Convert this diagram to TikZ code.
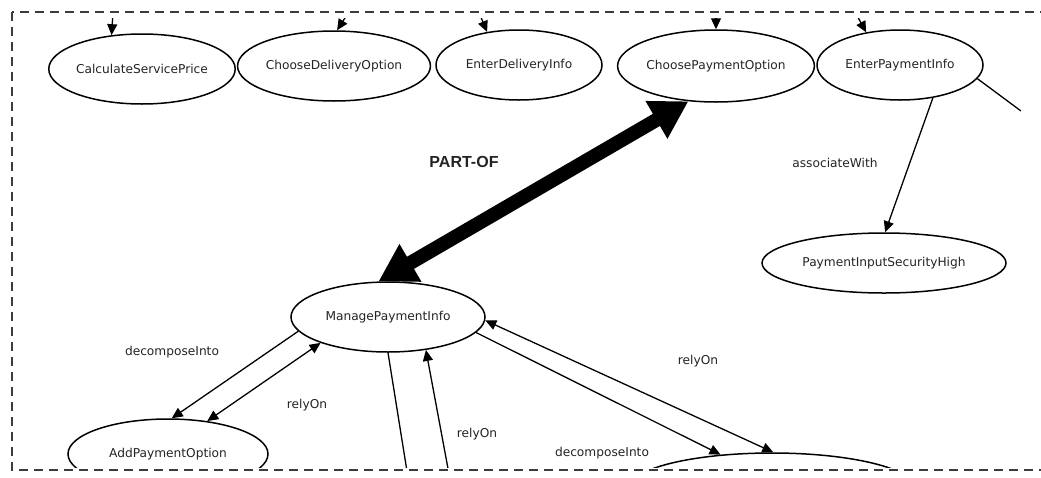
\documentclass[tikz,border=0pt]{standalone}
\usepackage{fontspec}
\setmainfont{DejaVu Sans}
\newfontfamily\headfont{Liberation Sans}
\usetikzlibrary{shapes.geometric,arrows.meta}
\definecolor{txt}{RGB}{35,35,35}
\definecolor{framecol}{RGB}{60,60,60}
\begin{document}
\begin{tikzpicture}[x=1pt,y=-1pt,
  concept/.style={ellipse,draw,line width=1.5pt,inner sep=0pt,
    font=\fontsize{12.2}{14}\selectfont,text=txt},
  rel/.style={line width=1.3pt,-{Triangle[length=11pt,width=10pt]}},
  twoway/.style={line width=1.3pt,{Triangle[length=11pt,width=10pt]}-{Triangle[length=11pt,width=10pt]}},
  plainrel/.style={line width=1.3pt},
  lbl/.style={font=\fontsize{12.2}{14}\selectfont,text=txt,inner sep=0pt},
  partof/.style={line width=14pt,{Triangle[length=37pt,width=41pt]}-{Triangle[length=37pt,width=41pt]}},
  frame/.style={draw=framecol,line width=1.1pt,dash pattern=on 9pt off 6pt}
]
\useasboundingbox (0,0) rectangle (1041,477);
\draw[frame] (12,12) rectangle (1070,470);

\begin{scope}
\clip (14,18) rectangle (1021,467);

% concepts
\node[concept,minimum width=168pt,minimum height=70pt] (csp) at (142,69) {CalculateServicePrice};
\node[concept,minimum width=166pt,minimum height=70pt] (cdo) at (334,66) {ChooseDeliveryOption};
\node[concept,minimum width=166pt,minimum height=70pt] (edi) at (519,65) {EnterDeliveryInfo};
\node[concept,minimum width=170pt,minimum height=72pt] (cpo) at (716,66) {ChoosePaymentOption};
\node[concept,minimum width=166pt,minimum height=70pt] (epi) at (900,65) {EnterPaymentInfo};
\node[concept,minimum width=244pt,minimum height=60pt] (pish) at (884,263) {PaymentInputSecurityHigh};
\node[concept,minimum width=194pt,minimum height=70pt] (mpi) at (388,317) {ManagePaymentInfo};
\node[concept,minimum width=200pt,minimum height=70pt] (apo) at (168,454) {AddPaymentOption};
\node[concept,minimum width=286pt,minimum height=70pt] (low) at (772,488) {};

% loose ends of connectors
\coordinate (inCsp) at (113,12);
\coordinate (inCdo) at (350,10);
\coordinate (inEdi) at (478,10);
\coordinate (inCpo) at (716,10);
\coordinate (inEpi) at (854,10);
\coordinate (outEpi) at (1021,111);
\coordinate (downA) at (410,490);
\coordinate (downB) at (452,490);

% incoming from above
\draw[rel] (inCsp) -- (csp.132);
\draw[rel] (inCdo) -- (cdo.85);
\draw[rel] (inEdi) -- (edi.134);
\draw[rel] (inCpo) -- (cpo.90);
\draw[rel] (inEpi) -- (epi.136);

% relations
\draw[plainrel] (epi.-10) -- (outEpi);
\draw[rel] (epi.-45) -- (pish.88);
\draw[partof] (mpi.105) -- (cpo.232);
\draw[rel] (mpi.189) -- (apo.84);
\draw[twoway] (apo.40) -- (mpi.201);
\draw[plainrel] (mpi.270) -- (downA);
\draw[rel] (downB) -- (mpi.-41);
\draw[rel] (mpi.-10) -- (low.147);
\draw[twoway] (mpi.-2) -- (low.88);

% labels
\node[lbl] (lPart) at (464,162) {\headfont\fontsize{16}{18}\selectfont\bfseries PART-OF};
\node[lbl] (lAssoc) at (835,163) {associateWith};
\node[lbl] (lDec1) at (172,352) {decomposeInto};
\node[lbl] (lRel1) at (307,405) {relyOn};
\node[lbl] (lRel2) at (477,434) {relyOn};
\node[lbl] (lRel3) at (698,361) {relyOn};
\node[lbl] (lDec2) at (602,453) {decomposeInto};
\end{scope}
\end{tikzpicture}
\end{document}
